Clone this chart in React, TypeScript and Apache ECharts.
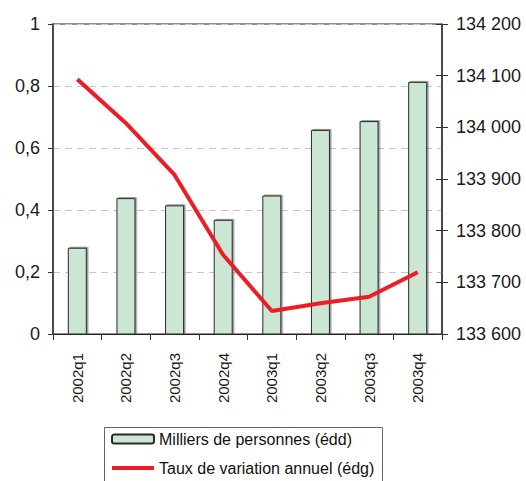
import React, { useEffect, useRef } from "react";
import * as echarts from "echarts";

const categories = ["2002q1", "2002q2", "2002q3", "2002q4", "2003q1", "2003q2", "2003q3", "2003q4"];
// Milliers de personnes (échelle de droite)
const employment = [133767, 133863, 133849, 133821, 133868, 133995, 134012, 134088];
// Taux de variation annuel (échelle de gauche)
const growthRate = [0.822, 0.68, 0.513, 0.255, 0.074, 0.099, 0.12, 0.199];

const barName = "Milliers de personnes (édd)";
const lineName = "Taux de variation annuel (édg)";

const FONT = "'Liberation Sans', Arial, sans-serif";

const fmtLeft = (v: number) => {
  const r = Math.round(v * 10) / 10;
  return String(r).replace(".", ",");
};
const fmtRight = (v: number) => {
  const s = String(Math.round(v));
  return s.replace(/\B(?=(\d{3})+(?!\d))/g, " ");
};

export default function App() {
  const ref = useRef<HTMLDivElement>(null);
  useEffect(() => {
    if (!ref.current) return;
    const chart = echarts.init(ref.current, undefined, { renderer: "svg" });
    chart.setOption({
      animation: false,
      backgroundColor: "#ffffff",
      textStyle: { fontFamily: FONT },
      grid: {
        left: 53,
        right: 84,
        top: 24,
        bottom: 147,
        show: true,
        borderColor: "#222",
        borderWidth: 1,
        backgroundColor: "transparent",
      },
      graphic: [
        {
          type: "rect",
          left: 102,
          top: 425,
          shape: { width: 278, height: 80 },
          style: { fill: "none", stroke: "#666", lineWidth: 1 },
          silent: true,
        },
      ],
      legend: {
        orient: "vertical",
        left: 102,
        top: 425,
        itemWidth: 42,
        itemHeight: 9,
        itemGap: 11,
        padding: [5, 4, 2, 9],
        textStyle: { fontSize: 16, lineHeight: 18, color: "#111", fontFamily: FONT },
        data: [
          { name: barName },
          {
            name: lineName,
            icon: "path://M0,0L42,0L42,4L0,4Z",
            itemStyle: { color: "#ee1d25", borderWidth: 0 },
          },
        ],
      },
      xAxis: {
        type: "category",
        data: categories,
        boundaryGap: true,
        axisLine: { lineStyle: { color: "#222", width: 1 } },
        axisTick: { show: true, length: 6, lineStyle: { color: "#333" } },
        axisLabel: {
          rotate: 90,
          fontSize: 15,
          color: "#1a1a1a",
          margin: 19,
          fontFamily: FONT,
        },
        splitLine: { show: false },
      },
      yAxis: [
        {
          type: "value",
          position: "left",
          min: 0,
          max: 1,
          interval: 0.2,
          axisLine: { show: true, lineStyle: { color: "#444", width: 1.8 } },
          axisTick: { show: true, length: 5, lineStyle: { color: "#333" } },
          axisLabel: {
            fontSize: 18,
            color: "#1a1a1a",
            margin: 13,
            formatter: fmtLeft,
            fontFamily: FONT,
          },
          splitLine: { show: true, lineStyle: { color: "#c8c8c8", type: [7, 5], width: 1 } },
        },
        {
          type: "value",
          position: "right",
          min: 133600,
          max: 134200,
          interval: 100,
          axisLine: { show: true, lineStyle: { color: "#333", width: 1.5 } },
          axisTick: { show: true, length: 6, lineStyle: { color: "#333" } },
          axisLabel: {
            fontSize: 18,
            color: "#1a1a1a",
            margin: 14,
            formatter: fmtRight,
            fontFamily: FONT,
          },
          splitLine: { show: false },
        },
        {
          type: "value",
          position: "right",
          offset: 0,
          min: 133600,
          max: 134200,
          interval: 100,
          axisLine: { show: false },
          axisTick: { show: true, inside: true, length: 6, lineStyle: { color: "#333" } },
          axisLabel: { show: false },
          splitLine: { show: false },
        },
      ],
      series: [
        {
          name: barName,
          type: "bar",
          yAxisIndex: 1,
          data: employment,
          barWidth: 19,
          itemStyle: {
            color: "#cce6d4",
            borderColor: "#2a2a2a",
            borderWidth: 1,
            shadowColor: "rgba(0,0,0,0.4)",
            shadowBlur: 0,
            shadowOffsetX: 1.5,
            shadowOffsetY: -1,
          },
          z: 2,
        },
        {
          name: lineName,
          type: "line",
          yAxisIndex: 0,
          data: growthRate,
          symbol: "none",
          showSymbol: false,
          lineStyle: { color: "#ee1d25", width: 4 },
          itemStyle: { color: "#ee1d25" },
          z: 5,
        },
      ],
    });
    return () => chart.dispose();
  }, []);
  return (
    <div
      ref={ref}
      style={{ position: "absolute", left: 0, top: 0, width: 526, height: 481, background: "#fff" }}
    />
  );
}
